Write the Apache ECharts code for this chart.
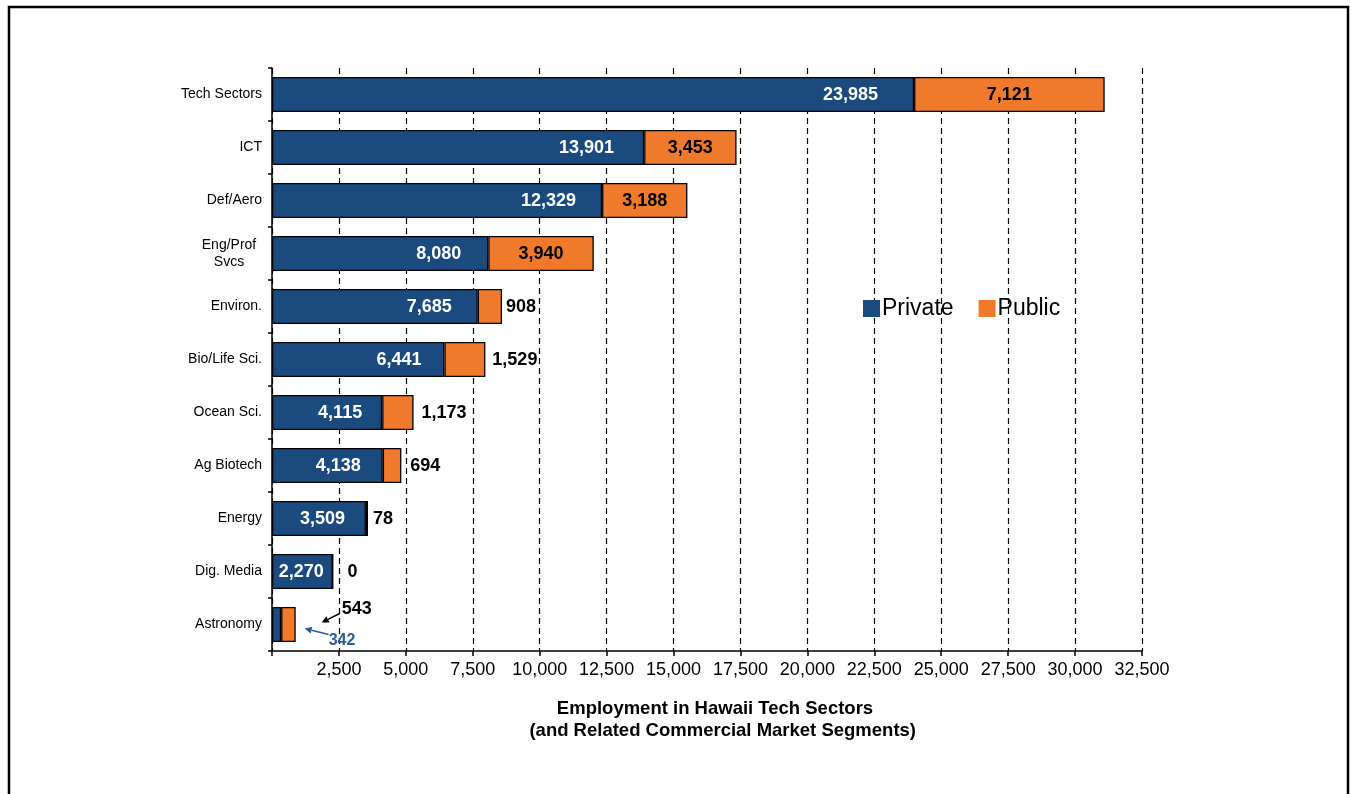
<!DOCTYPE html>
<html>
<head>
<meta charset="utf-8">
<script src="https://cdn.jsdelivr.net/npm/echarts@6/dist/echarts.min.js"></script>
<style>
  html, body { margin: 0; padding: 0; background: #fff; }
  #chart { width: 1351px; height: 794px; }
</style>
</head>
<body>
<div id="chart"></div>
<script>
// chart data
const categories = ['Tech Sectors', 'ICT', 'Def/Aero', 'Eng/Prof\nSvcs', 'Environ.', 'Bio/Life Sci.',
  'Ocean Sci.', 'Ag Biotech', 'Energy', 'Dig. Media', 'Astronomy']
const privateData = [23985, 13901, 12329, 8080, 7685, 6441, 4115, 4138, 3509, 2270, 342]
const publicData = [7121, 3453, 3188, 3940, 908, 1529, 1173, 694, 78, 0, 543]
const xTicks = [0, 2500, 5000, 7500, 10000, 12500, 15000, 17500, 20000, 22500, 25000, 27500, 30000, 32500]

const BLUE = '#1b4a7f'
const ORANGE = '#f07a2b'
const FONT = 'Liberation Sans, Arial, sans-serif'
const fmt = v => v.toLocaleString('en-US')

// label offsets, as they sit in the original
const privateGap = [36, 30, 26, 27, 26, 23, 20, 22, 21, 9]
const publicGap = [0, 0, 0, 0, 4, 7, 8, 9, 5, 14]

const chart = echarts.init(document.getElementById('chart'))
const lastIdx = categories.length - 1

const privateItems = privateData.map((v, i) => ({
  value: v,
  label: { show: i !== lastIdx, distance: privateGap[i] }
}))
const publicItems = publicData.map((v, i) => ({
  value: v,
  label: {
    show: i !== lastIdx,
    position: i < 4 ? 'inside' : 'right',
    distance: publicGap[i]
  }
}))

chart.setOption({
  animation: false,
  textStyle: { fontFamily: FONT },
  grid: { left: 272, right: 209, top: 68, bottom: 143 },
  legend: {
    left: 858,
    top: 292,
    itemWidth: 17,
    itemHeight: 17,
    itemGap: 25,
    icon: 'rect',
    itemStyle: { borderWidth: 0 },
    textStyle: { fontSize: 23, color: '#000', fontFamily: FONT, padding: [0, 0, 0, -3] },
    data: ['Private', 'Public']
  },
  xAxis: {
    type: 'value',
    min: 0,
    max: 32500,
    interval: 2500,
    name: 'Employment in Hawaii Tech Sectors\n   (and Related Commercial Market Segments)',
    nameLocation: 'middle',
    nameGap: 47,
    nameTextStyle: { fontSize: 18.5, fontWeight: 'bold', color: '#000', lineHeight: 22, padding: [0, 0, 0, 16] },
    axisLine: { show: true, lineStyle: { color: '#000', width: 1.5 } },
    axisTick: { show: true, length: 5, lineStyle: { color: '#000', width: 1.5 } },
    axisLabel: {
      fontSize: 18,
      color: '#000',
      margin: 10,
      formatter: v => (v === xTicks[0] ? '' : fmt(v))
    },
    splitLine: { show: true, lineStyle: { color: '#000', type: [6, 4], width: 1.2 } }
  },
  yAxis: {
    type: 'category',
    inverse: true,
    data: categories,
    axisLine: { show: true, lineStyle: { color: '#000', width: 1.5 } },
    axisTick: { show: true, length: 4, lineStyle: { color: '#000', width: 1.5 } },
    axisLabel: {
      fontSize: 14,
      color: '#000',
      margin: 10,
      formatter: v => (v.indexOf('\n') >= 0 ? '{c|' + v + '}' : v),
      rich: { c: { fontSize: 14, color: '#000', align: 'center', width: 66, lineHeight: 17 } }
    }
  },
  series: [
    {
      name: 'Private',
      type: 'bar',
      stack: 'total',
      barWidth: 35,
      itemStyle: { color: BLUE, borderColor: '#000', borderWidth: 1.3 },
      label: {
        show: true,
        position: 'insideRight',
        offset: [0, 1],
        color: '#fff',
        fontSize: 18,
        fontWeight: 'bold',
        formatter: p => fmt(p.value)
      },
      data: privateItems
    },
    {
      name: 'Public',
      type: 'bar',
      stack: 'total',
      barWidth: 35,
      itemStyle: { color: ORANGE, borderColor: '#000', borderWidth: 1.3 },
      label: {
        show: true,
        offset: [0, 1],
        color: '#000',
        fontSize: 18,
        fontWeight: 'bold',
        formatter: p => fmt(p.value)
      },
      data: publicItems
    }
  ]
})

// astronomy call-outs with arrows, placed from the bar end
function arrow(x1, y1, x2, y2, color) {
  const a = Math.atan2(y2 - y1, x2 - x1)
  const h = 7
  const w = 3.5
  const bx = x2 - h * Math.cos(a)
  const by = y2 - h * Math.sin(a)
  return {
    type: 'group',
    children: [
      { type: 'line', shape: { x1, y1, x2: bx, y2: by }, style: { stroke: color, lineWidth: 1.5 } },
      {
        type: 'polygon',
        shape: {
          points: [[x2, y2],
            [bx + w * Math.sin(a), by - w * Math.cos(a)],
            [bx - w * Math.sin(a), by + w * Math.cos(a)]]
        },
        style: { fill: color }
      }
    ]
  }
}

const end = chart.convertToPixel({ gridIndex: 0 }, [privateData[lastIdx] + publicData[lastIdx], lastIdx])
const ex = end[0]
const ey = end[1]
const LABEL_BLUE = '#2c5d98'

chart.setOption({
  graphic: [
    {
      type: 'rect',
      shape: { x: 9, y: 7, width: 1339, height: 800 },
      style: { fill: 'none', stroke: '#000', lineWidth: 2.5 },
      silent: true
    },
    {
      type: 'text',
      x: ex + 46,
      y: ey - 15,
      style: { text: fmt(publicData[lastIdx]), font: 'bold 18px ' + FONT, fill: '#000', textVerticalAlign: 'middle' }
    },
    arrow(ex + 44, ey - 11, ex + 26, ey - 2, '#000'),
    {
      type: 'text',
      x: ex + 33,
      y: ey + 16,
      style: { text: fmt(privateData[lastIdx]), font: 'bold 16px ' + FONT, fill: LABEL_BLUE, textVerticalAlign: 'middle' }
    },
    arrow(ex + 33, ey + 10, ex + 9, ey + 4, LABEL_BLUE)
  ]
})
</script>
</body>
</html>
